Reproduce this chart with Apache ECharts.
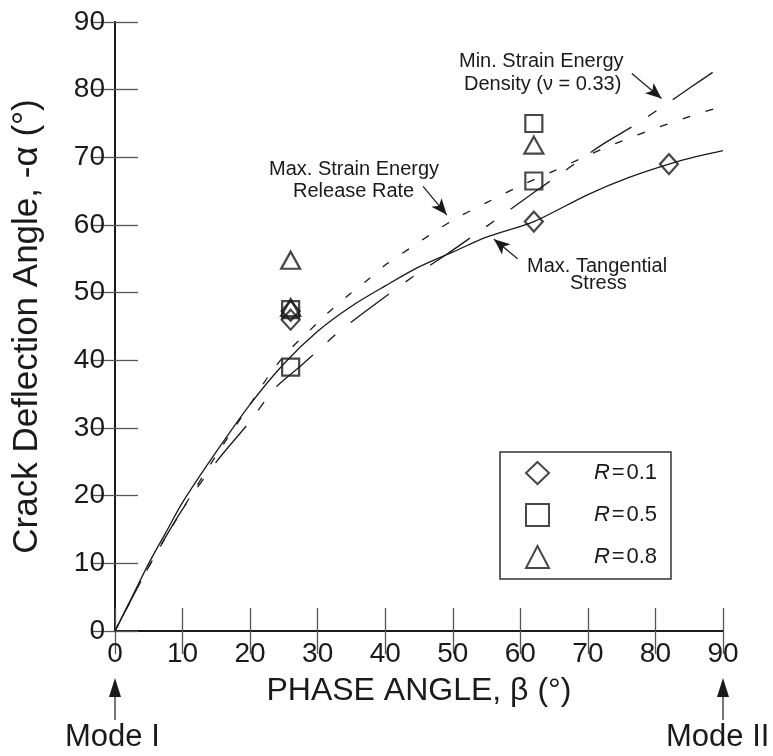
<!DOCTYPE html>
<html>
<head>
<meta charset="utf-8">
<script src="https://cdn.jsdelivr.net/npm/echarts@6/dist/echarts.min.js"></script>
<style>
html,body{margin:0;padding:0;background:#fff;}
#chart{width:773px;height:756px;}
</style>
</head>
<body>
<div id="chart"></div>
<script>
// ---- data ----
var xTicks = [0,10,20,30,40,50,60,70,80,90];
var yTicks = [0,10,20,30,40,50,60,70,80,90];

var mtsX = [0, 2.5, 5, 7.5, 10, 15, 20, 25, 30, 35, 40, 45, 50, 55, 62, 70, 76, 82, 86, 90];
var mtsY = [0, 5, 10, 14.5, 19, 26.5, 33.5, 39.5, 44.3, 48, 51, 53.8, 56, 58.2, 60.5, 64.5, 67, 69, 70.1, 71];

var merrX = [0, 5, 10, 15, 20, 23.3, 26, 28.7, 31.5, 34.4, 37.3, 40.3, 43.7, 50, 55, 60, 65, 70, 75, 80, 85, 90];
var merrY = [0, 9.5, 18, 26, 33.5, 38.5, 41.7, 44.3, 47, 49.5, 51.8, 54.3, 56.6, 60.7, 63.3, 65.8, 68, 70.3, 72.4, 74.3, 76, 77.6];

var msedX = [0, 5, 10, 15, 20, 23.7, 27.4, 30.1, 33, 36.5, 40, 44.3, 49, 55, 62, 67, 72, 77, 81.5, 85, 90];
var msedY = [0, 9.5, 18, 25, 31, 35.9, 39.1, 41.5, 44.1, 46.8, 49.4, 52.5, 55.6, 59.8, 64.8, 68.3, 71.8, 74.8, 77.8, 80.2, 83.6];

var r01X = [26, 26, 62, 82];
var r01Y = [46, 47.3, 60.5, 69];
var r05X = [26, 26, 62, 62];
var r05Y = [39, 47.5, 66.5, 75];
var r08X = [26, 26, 62];
var r08Y = [54.8, 47.8, 71.8];

var seriesNames = ['R = 0.1', 'R = 0.5', 'R = 0.8'];

// annotation arrows in data units [fromX, fromY, toX, toY]
var arrowMERR = [45.6, 65.7, 49.1, 61.5];
var arrowMSED = [76.5, 82.4, 80.9, 78.7];
var arrowMTS  = [59.6, 55.0, 56.1, 57.9];

function zip(a, b){ return a.map(function(v,i){ return [v, b[i]]; }); }

var FONT = "'Liberation Sans Narrow','Arial Narrow','Liberation Sans',Arial,sans-serif";
var INK = '#1a1a1a';

var chart = echarts.init(document.getElementById('chart'), null, {renderer:'canvas'});

function arrowLine(a){
  return {
    silent:true, symbol:['none','arrow'], symbolSize:[10,16],
    label:{show:false},
    lineStyle:{color:INK, width:1.2, type:'solid'},
    data:[[{coord:[a[0],a[1]]},{coord:[a[2],a[3]]}]]
  };
}

var axisCommon = {
  type:'value', min:0, max:90, interval:10,
  axisLine:{show:true, lineStyle:{color:INK, width:2}},
  axisTick:{show:true, inside:true, length:23, lineStyle:{color:'#555', width:1.3}},
  splitLine:{show:false}
};

var option = {
  backgroundColor:'#fff',
  animation:false,
  grid:{left:115, right:50, top:22, bottom:125, containLabel:false},
  xAxis:[
    Object.assign({}, axisCommon, {
      position:'bottom',
      name:'PHASE ANGLE, \u03b2 (\u00b0)', nameLocation:'middle', nameGap:44,
      nameTextStyle:{fontFamily:FONT, fontSize:32, color:INK},
      axisLabel:{fontFamily:FONT, fontSize:28, color:INK, margin:9,
        formatter:function(v){ return xTicks.indexOf(v) >= 0 ? String(v) : ''; }}
    }),
    Object.assign({}, axisCommon, {position:'top', axisLabel:{show:false}})
  ],
  yAxis:[
    Object.assign({}, axisCommon, {
      position:'left',
      name:'Crack Deflection Angle, -\u03b1 (\u00b0)', nameLocation:'middle', nameGap:70,
      nameTextStyle:{fontFamily:FONT, fontSize:35, color:INK},
      axisLabel:{fontFamily:FONT, fontSize:28, color:INK, margin:10,
        formatter:function(v){ return yTicks.indexOf(v) >= 0 ? String(v) : ''; }}
    }),
    Object.assign({}, axisCommon, {position:'right', axisLabel:{show:false}})
  ],
  legend:{
    data:seriesNames,
    orient:'vertical', left:500, top:452,
    backgroundColor:'#fff',
    borderColor:'#333', borderWidth:1.5,
    padding:[9, 14, 10, 25],
    itemWidth:23, itemHeight:22, itemGap:18,
    selectedMode:false,
    textStyle:{fontFamily:FONT, fontSize:22, color:INK, lineHeight:22,
      rich:{
        i:{fontFamily:FONT, fontSize:22, fontStyle:'italic', color:INK, padding:[0,0,0,40]},
        n:{fontFamily:FONT, fontSize:22, color:INK}
      }},
    formatter:function(name){ return '{i|R}{n|\u200a=\u200a' + name.split('= ')[1] + '}'; }
  },
  graphic:[
    {type:'text', left:459, top:51, style:{text:'Min. Strain Energy', font:'20px ' + FONT, fill:INK}},
    {type:'text', left:464, top:74, style:{text:'Density (\u03bd = 0.33)', font:'20px ' + FONT, fill:INK}},
    {type:'text', left:269, top:159, style:{text:'Max. Strain Energy', font:'20px ' + FONT, fill:INK}},
    {type:'text', left:293, top:181, style:{text:'Release Rate', font:'20px ' + FONT, fill:INK}},
    {type:'text', left:527, top:256, style:{text:'Max. Tangential', font:'20px ' + FONT, fill:INK}},
    {type:'text', left:570, top:273, style:{text:'Stress', font:'20px ' + FONT, fill:INK}},
    {type:'line', shape:{x1:115, y1:720, x2:115, y2:690}, style:{stroke:INK, lineWidth:1.2}},
    {type:'polygon', shape:{points:[[115,678],[109,697],[121,697]]}, style:{fill:INK}},
    {type:'line', shape:{x1:723, y1:720, x2:723, y2:690}, style:{stroke:INK, lineWidth:1.2}},
    {type:'polygon', shape:{points:[[723,678],[717,697],[729,697]]}, style:{fill:INK}},
    {type:'text', left:65, top:722, style:{text:'Mode I', font:'31px ' + FONT, fill:INK}},
    {type:'text', left:666, top:722, style:{text:'Mode II', font:'31px ' + FONT, fill:INK}}
  ],
  series:[
    {name:'Max. Tangential Stress', type:'line', data:zip(mtsX, mtsY), smooth:0.3,
      showSymbol:false, symbol:'none', lineStyle:{color:INK, width:1.3, type:'solid'},
      markLine:arrowLine(arrowMTS), z:3},
    {name:'Max. Strain Energy Release Rate', type:'line', data:zip(merrX, merrY), smooth:0.3,
      showSymbol:false, symbol:'none', lineStyle:{color:INK, width:1.3, type:[8,16]},
      markLine:arrowLine(arrowMERR), z:3},
    {name:'Min. Strain Energy Density', type:'line', data:zip(msedX, msedY), smooth:0.3,
      showSymbol:false, symbol:'none', lineStyle:{color:INK, width:1.3, type:[48,20,10,20]},
      markLine:arrowLine(arrowMSED), z:3},
    {name:seriesNames[0], type:'scatter', data:zip(r01X, r01Y), symbol:'diamond', symbolSize:[18,20],
      itemStyle:{color:'rgba(255,255,255,0)', borderColor:INK, borderWidth:2.2}, z:5},
    {name:seriesNames[1], type:'scatter', data:zip(r05X, r05Y), symbol:'rect', symbolSize:17,
      itemStyle:{color:'rgba(255,255,255,0)', borderColor:INK, borderWidth:2.2}, z:5},
    {name:seriesNames[2], type:'scatter', data:zip(r08X, r08Y), symbol:'triangle', symbolSize:[19,17],
      itemStyle:{color:'rgba(255,255,255,0)', borderColor:INK, borderWidth:2.2}, z:5}
  ]
};
chart.setOption(option);
</script>
</body>
</html>
